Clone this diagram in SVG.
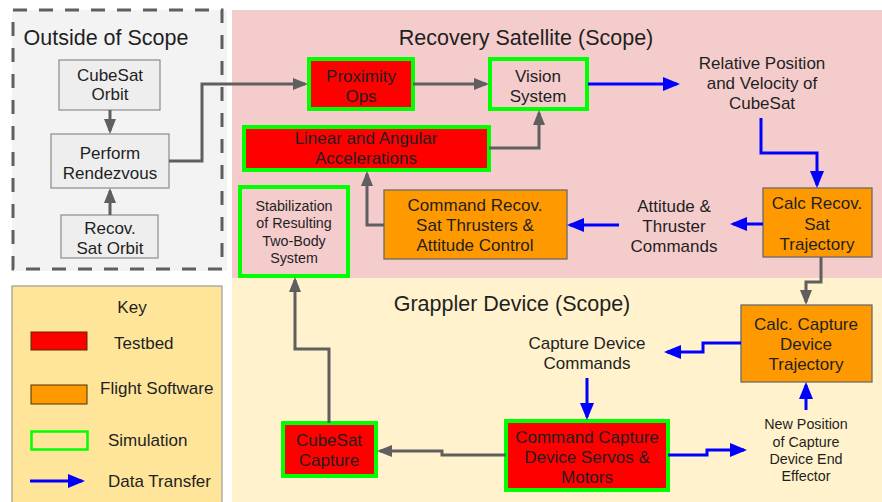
<svg xmlns="http://www.w3.org/2000/svg" width="882" height="502" viewBox="0 0 882 502">
  <defs>
    <style>
      text { font-family: "Liberation Sans", Arial, sans-serif; fill: #1f1f1f; text-anchor: middle; }
      .title { font-size: 21.5px; }
      .lbl { font-size: 17px; }
      .sm { font-size: 14.3px; }
      .key { text-anchor: start; font-size: 17px; }
      .ext { fill: #eeeeee; stroke: #8c8c8c; stroke-width: 1.2; }
      .test { fill: #ff0000; stroke: #00ff00; stroke-width: 4; }
      .sim { fill: none; stroke: #00ff00; stroke-width: 4; }
      .fsw { fill: #ff9900; stroke: #6b6b6b; stroke-width: 1.3; }
      .flow { fill: none; stroke: #5f5f5f; stroke-width: 3; marker-end: url(#grayHead); }
      .data { fill: none; stroke: #0000ff; stroke-width: 3; marker-end: url(#blueHead); }
    </style>
    <marker id="grayHead" markerUnits="userSpaceOnUse" markerWidth="15" markerHeight="12" refX="12" refY="6" orient="auto">
      <path d="M0,0 L15,6 L0,12 z" fill="#5f5f5f"/>
    </marker>
    <marker id="blueHead" markerUnits="userSpaceOnUse" markerWidth="17" markerHeight="14" refX="14" refY="7" orient="auto">
      <path d="M0,0 L17,7 L0,14 z" fill="#0000ff"/>
    </marker>
  </defs>

  <rect width="882" height="502" fill="#ffffff"/>

  <!-- scope regions -->
  <g id="outside-scope">
    <rect x="12" y="10" width="215" height="261" fill="#f3f3f3"/>
    <rect x="13" y="10" width="209" height="259" fill="none" stroke="#5f5f5f" stroke-width="3" stroke-dasharray="14 12"/>
    <text class="title" x="106" y="45">Outside of Scope</text>
  </g>
  <g id="recovery-satellite">
    <rect x="232" y="10" width="650" height="268" fill="#f4cccc"/>
    <text class="title" x="526" y="45">Recovery Satellite (Scope)</text>
  </g>
  <g id="grappler-device">
    <rect x="232" y="278" width="650" height="224" fill="#fff2cc"/>
    <text class="title" x="512" y="311">Grappler Device (Scope)</text>
  </g>

  <!-- legend -->
  <g id="key">
    <rect x="12" y="286" width="210" height="220" fill="#ffe599" stroke="#999999" stroke-width="1.2"/>
    <text class="lbl" x="132" y="313">Key</text>
    <rect x="31" y="332" width="56" height="18" fill="#ff0000" stroke="#5a2a00" stroke-width="1"/>
    <text class="key" x="114" y="349">Testbed</text>
    <rect x="31" y="385" width="56" height="19" fill="#ff9900" stroke="#4a3000" stroke-width="1"/>
    <text class="key" x="100" y="394">Flight Software</text>
    <rect x="31.5" y="431.5" width="56" height="18" fill="none" stroke="#00ff00" stroke-width="2.5"/>
    <text class="key" x="108" y="446">Simulation</text>
    <path class="data" d="M30,481 H82"/>
    <text class="key" x="108" y="487">Data Transfer</text>
  </g>

  <!-- nodes outside scope -->
  <g id="cubesat-orbit">
    <rect class="ext" x="59" y="60" width="101" height="50"/>
    <text class="lbl" x="110" y="81">CubeSat</text>
    <text class="lbl" x="110" y="100">Orbit</text>
  </g>
  <g id="perform-rendezvous">
    <rect class="ext" x="51" y="134" width="118" height="54"/>
    <text class="lbl" x="110" y="159">Perform</text>
    <text class="lbl" x="110" y="179">Rendezvous</text>
  </g>
  <g id="recov-sat-orbit">
    <rect class="ext" x="61" y="215" width="97" height="43"/>
    <text class="lbl" x="110" y="234">Recov.</text>
    <text class="lbl" x="110" y="254">Sat Orbit</text>
  </g>

  <!-- recovery satellite nodes -->
  <g id="proximity-ops">
    <rect class="test" x="309" y="59" width="104" height="50"/>
    <text class="lbl" x="361" y="82">Proximity</text>
    <text class="lbl" x="361" y="102">Ops</text>
  </g>
  <g id="vision-system">
    <rect class="sim" x="490" y="59" width="97" height="50"/>
    <text class="lbl" x="538" y="82">Vision</text>
    <text class="lbl" x="538" y="102">System</text>
  </g>
  <g id="linear-angular-accel">
    <rect class="test" x="244" y="127" width="245" height="43"/>
    <text class="lbl" x="366" y="144">Linear and Angular</text>
    <text class="lbl" x="366" y="164">Accelerations</text>
  </g>
  <g id="stabilization">
    <rect class="sim" x="240" y="187" width="108" height="89"/>
    <text class="sm" x="294" y="211">Stabilization</text>
    <text class="sm" x="294" y="228">of Resulting</text>
    <text class="sm" x="294" y="246">Two-Body</text>
    <text class="sm" x="294" y="263">System</text>
  </g>
  <g id="command-recov-thrusters">
    <rect class="fsw" x="384" y="190" width="183" height="69"/>
    <text class="lbl" x="475" y="211">Command Recov.</text>
    <text class="lbl" x="475" y="231">Sat Thrusters &amp;</text>
    <text class="lbl" x="475" y="251">Attitude Control</text>
  </g>
  <g id="relative-position">
    <text class="lbl" x="762" y="69">Relative Position</text>
    <text class="lbl" x="762" y="89">and Velocity of</text>
    <text class="lbl" x="762" y="109">CubeSat</text>
  </g>
  <g id="calc-recov-trajectory">
    <rect class="fsw" x="763" y="188" width="109" height="69"/>
    <text class="lbl" x="817" y="209">Calc Recov.</text>
    <text class="lbl" x="817" y="230">Sat</text>
    <text class="lbl" x="817" y="250">Trajectory</text>
  </g>
  <g id="attitude-thruster-commands">
    <text class="lbl" x="674" y="212">Attitude &amp;</text>
    <text class="lbl" x="674" y="232">Thruster</text>
    <text class="lbl" x="674" y="252">Commands</text>
  </g>

  <!-- grappler device nodes -->
  <g id="calc-capture-trajectory">
    <rect class="fsw" x="741" y="305" width="131" height="77"/>
    <text class="lbl" x="806" y="330">Calc. Capture</text>
    <text class="lbl" x="806" y="350">Device</text>
    <text class="lbl" x="806" y="370">Trajectory</text>
  </g>
  <g id="capture-device-commands">
    <text class="lbl" x="587" y="349">Capture Device</text>
    <text class="lbl" x="587" y="369">Commands</text>
  </g>
  <g id="command-capture-servos">
    <rect class="test" x="506" y="421" width="162" height="69"/>
    <text class="lbl" x="587" y="443">Command Capture</text>
    <text class="lbl" x="587" y="463">Device Servos &amp;</text>
    <text class="lbl" x="587" y="483">Motors</text>
  </g>
  <g id="new-position">
    <text class="sm" x="806" y="429">New Position</text>
    <text class="sm" x="806" y="447">of Capture</text>
    <text class="sm" x="806" y="464">Device End</text>
    <text class="sm" x="806" y="481">Effector</text>
  </g>
  <g id="cubesat-capture">
    <rect class="test" x="283" y="423" width="93" height="53"/>
    <text class="lbl" x="329" y="446">CubeSat</text>
    <text class="lbl" x="329" y="466">Capture</text>
  </g>

  <!-- connectors -->
  <g id="connectors">
    <path class="flow" d="M110,110 V131"/>
    <path class="flow" d="M110,215 V191"/>
    <path class="flow" d="M169,161 H202 V84 H305"/>
    <path class="flow" d="M413,84 H486"/>
    <path class="flow" d="M489,148 H539 V113"/>
    <path class="flow" d="M384,225 H367 V174"/>
    <path class="flow" d="M821,257 V282 H806 V302"/>
    <path class="flow" d="M506,455 H442 V451 H380"/>
    <path class="flow" d="M329,423 V349 H295 V280"/>

    <path class="data" d="M588,84 H677"/>
    <path class="data" d="M761,118 V153 H817 V185"/>
    <path class="data" d="M763,224 H733"/>
    <path class="data" d="M619,225 H570"/>
    <path class="data" d="M741,343 H703 V352 H667"/>
    <path class="data" d="M587,378 V417"/>
    <path class="data" d="M668,455 H707 V450 H744"/>
    <path class="data" d="M806,410 V385"/>
  </g>
</svg>
